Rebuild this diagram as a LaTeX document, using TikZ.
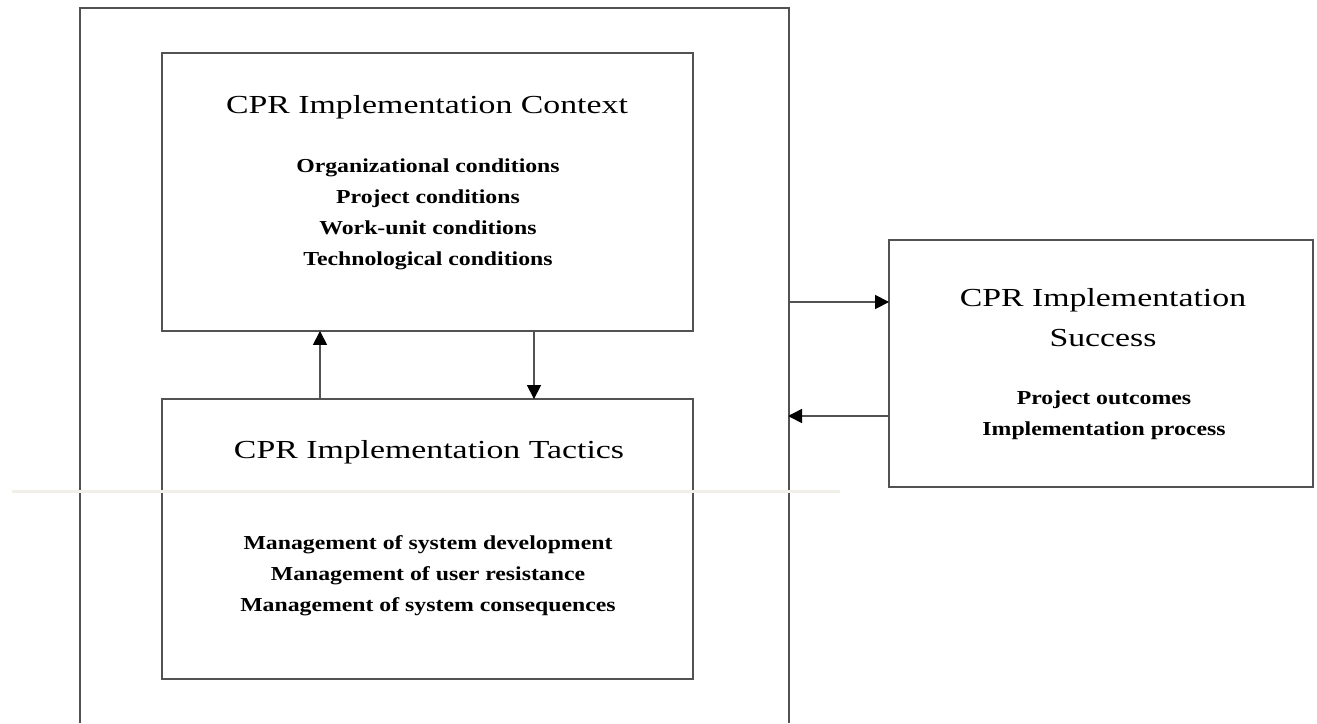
\documentclass[tikz,border=0pt]{standalone}
\usepackage{fontspec}
\usetikzlibrary{arrows.meta}
\newfontfamily\headfont{Liberation Serif}[FakeStretch=1.3]
\newfontfamily\listfont{Liberation Serif}[FakeStretch=1.2]
\definecolor{edge}{gray}{0.32}
\definecolor{seam}{RGB}{240,240,232}
\tikzset{
  x=1pt, y=-1pt,
  panel/.style={draw=edge, line width=1.9pt, rectangle, inner sep=0pt},
  heading/.style={font=\headfont\fontsize{26}{40}\selectfont, align=center, inner sep=0pt},
  factors/.style={font=\listfont\bfseries\fontsize{19.8}{31}\selectfont, align=center, inner sep=0pt},
  link/.style={draw=edge, line width=1.6pt, -{Triangle[length=14pt,width=14pt,color=black]}, shorten >=-1pt}
}
\begin{document}
\begin{tikzpicture}
\useasboundingbox (0,0) rectangle (1317,723);

% enclosing frame, open at the bottom
\draw[edge, line width=1.9pt] (80,723) -- (80,8) -- (789,8) -- (789,723);

% boxes
\node[panel, minimum width=531pt, minimum height=278pt] (context) at (427.5,192) {};
\node[panel, minimum width=531pt, minimum height=280pt] (tactics) at (427.5,539) {};
\node[panel, minimum width=424pt, minimum height=247pt] (success) at (1101,363.5) {};

% texts
\node[heading] (contextT) at (427,107) {CPR Implementation Context};
\node[factors] (contextL) at (428,214) {Organizational conditions\\Project conditions\\Work-unit conditions\\Technological conditions};
\node[heading] (tacticsT) at (429,452) {CPR Implementation Tactics};
\node[factors] (tacticsL) at (428,576) {Management of system development\\Management of user resistance\\Management of system consequences};
\node[heading] (successT) at (1103,318) {CPR Implementation\\Success};
\node[factors] (successL) at (1104,415) {Project outcomes\\Implementation process};

% links between context and tactics
\draw[link] (tactics.north -| 320,0) -- (context.south -| 320,0);
\draw[link] (context.south -| 534,0) -- (tactics.north -| 534,0);

% links between frame and success
\coordinate (frameOut) at (789,302);
\coordinate (frameIn) at (789,416);
\draw[link] (frameOut) -- (success.west |- frameOut);
\draw[link] (success.west |- frameIn) -- (frameIn);

% light seam crossing the frame
\fill[seam] (12,490) rectangle (840,492.5);
\end{tikzpicture}
\end{document}
